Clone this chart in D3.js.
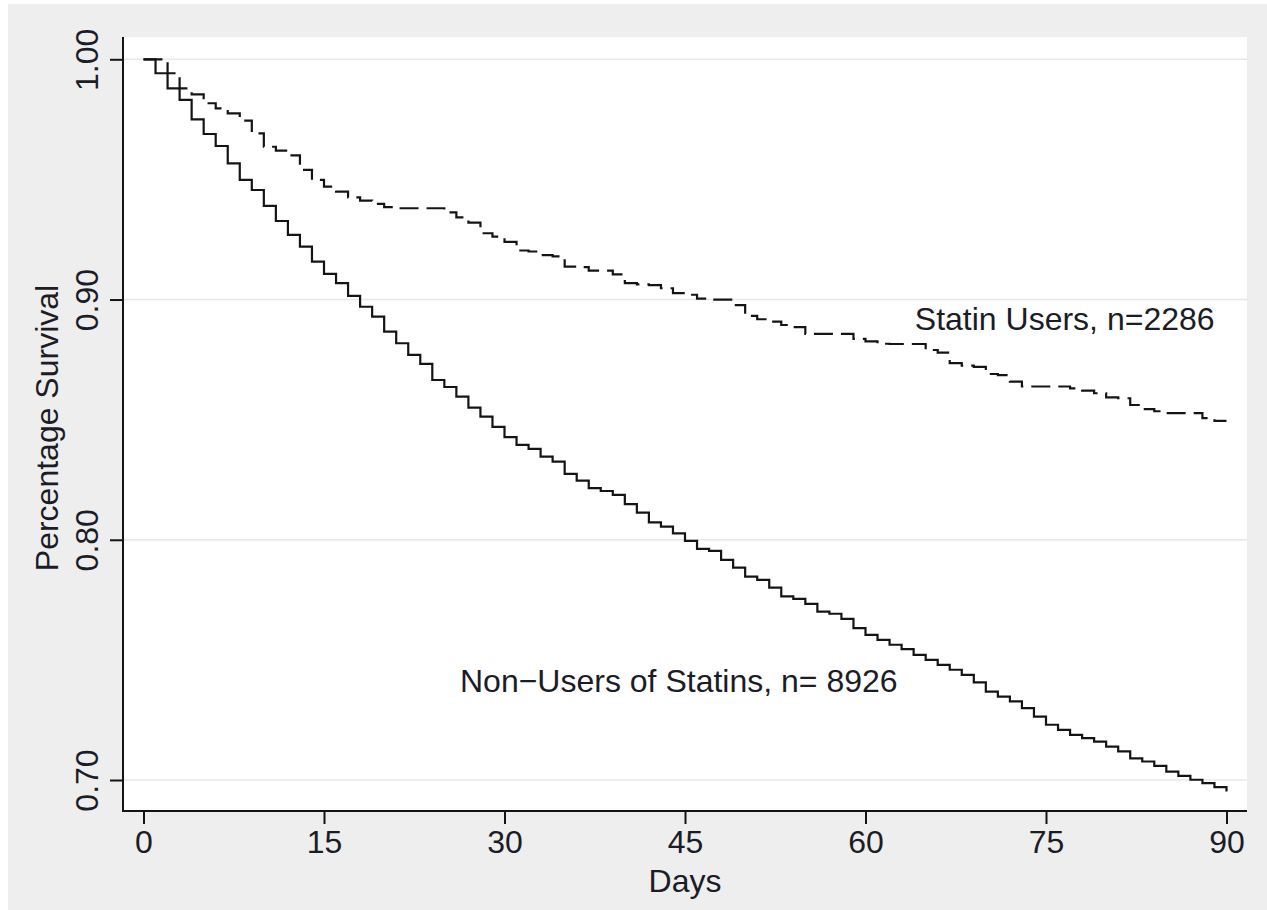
<!DOCTYPE html>
<html>
<head>
<meta charset="utf-8">
<script src="https://cdn.jsdelivr.net/npm/d3@7"></script>
<style>
  html, body { margin: 0; padding: 0; background: #ffffff; }
  svg { display: block; }
  text { font-family: "Liberation Sans", Arial, Helvetica, sans-serif; fill: #1c1c26; }
</style>
</head>
<body>
<svg id="chart" width="1267" height="910"></svg>
<script>
// Kaplan-Meier survival estimates, one value per day (value holds from that day to the next)
const days = d3.range(0, 91);

const nonUsers = [
  1.0000, 0.9942, 0.9879, 0.9831, 0.9750, 0.9689, 0.9639, 0.9567, 0.9498, 0.9456,
  0.9390, 0.9327, 0.9269, 0.9220, 0.9158, 0.9107, 0.9068, 0.9015, 0.8970, 0.8929,
  0.8866, 0.8818, 0.8770, 0.8732, 0.8665, 0.8636, 0.8596, 0.8550, 0.8513, 0.8470,
  0.8427, 0.8395, 0.8378, 0.8346, 0.8325, 0.8274, 0.8246, 0.8215, 0.8203, 0.8187,
  0.8148, 0.8113, 0.8072, 0.8055, 0.8027, 0.7995, 0.7962, 0.7954, 0.7916, 0.7884,
  0.7847, 0.7833, 0.7801, 0.7764, 0.7754, 0.7733, 0.7701, 0.7692, 0.7671, 0.7632,
  0.7604, 0.7583, 0.7563, 0.7545, 0.7521, 0.7500, 0.7479, 0.7459, 0.7438, 0.7406,
  0.7368, 0.7347, 0.7327, 0.7299, 0.7264, 0.7230, 0.7209, 0.7188, 0.7174, 0.7160,
  0.7139, 0.7119, 0.7090, 0.7077, 0.7059, 0.7035, 0.7017, 0.7001, 0.6987, 0.6970,
  0.6952
];

const statinUsers = [
  1.0000, 1.0000, 0.9942, 0.9879, 0.9854, 0.9817, 0.9796, 0.9775, 0.9745, 0.9692,
  0.9636, 0.9620, 0.9600, 0.9540, 0.9498, 0.9470, 0.9449, 0.9425, 0.9412, 0.9398,
  0.9385, 0.9380, 0.9380, 0.9380, 0.9380, 0.9363, 0.9342, 0.9320, 0.9276, 0.9262,
  0.9240, 0.9204, 0.9200, 0.9185, 0.9180, 0.9137, 0.9135, 0.9120, 0.9120, 0.9105,
  0.9068, 0.9063, 0.9060, 0.9047, 0.9027, 0.9020, 0.9004, 0.9000, 0.9000, 0.8977,
  0.8932, 0.8918, 0.8908, 0.8894, 0.8885, 0.8857, 0.8857, 0.8857, 0.8857, 0.8836,
  0.8826, 0.8816, 0.8815, 0.8815, 0.8815, 0.8790, 0.8779, 0.8735, 0.8725, 0.8720,
  0.8690, 0.8685, 0.8658, 0.8638, 0.8638, 0.8638, 0.8638, 0.8630, 0.8621, 0.8610,
  0.8593, 0.8589, 0.8561, 0.8544, 0.8535, 0.8527, 0.8527, 0.8527, 0.8506, 0.8495,
  0.8495
];

const xTicks = [0, 15, 30, 45, 60, 75, 90];
const yTicks = [0.70, 0.80, 0.90, 1.00];

const curveLabels = [
  { text: "Statin Users, n=2286", day: 64.1, value: 0.8873 },
  { text: "Non\u2212Users of Statins, n= 8926", day: 26.3, value: 0.7368 }
];

const W = 1267, H = 910;
const plot = { left: 123, right: 1247, top: 37, bottom: 811 };

const svg = d3.select("#chart");

// outer graph region
svg.append("rect").attr("x", 8).attr("y", 4).attr("width", W - 8).attr("height", H - 4)
  .attr("fill", "#eeeeee");
// plot region
svg.append("rect").attr("x", plot.left).attr("y", plot.top)
  .attr("width", plot.right - plot.left).attr("height", plot.bottom - plot.top)
  .attr("fill", "#ffffff");

const x = d3.scaleLinear().domain([-1.704, 91.704]).range([plot.left, plot.right]);
const y = d3.scaleLinear().domain([0.6871, 1.00928]).range([plot.bottom, plot.top]);

// horizontal grid
svg.append("g").selectAll("line").data(yTicks).join("line")
  .attr("x1", plot.left).attr("x2", plot.right)
  .attr("y1", d => y(d)).attr("y2", d => y(d))
  .attr("stroke", "#e8e8e8").attr("stroke-width", 1.6);

// survival step curves
const line = d3.line()
  .x((d, i) => x(days[i]))
  .y(d => y(d))
  .curve(d3.curveStepAfter);

svg.append("path").datum(nonUsers)
  .attr("d", line).attr("fill", "none")
  .attr("stroke", "#141414").attr("stroke-width", 2.2);

svg.append("path").datum(statinUsers)
  .attr("d", line).attr("fill", "none")
  .attr("stroke", "#141414").attr("stroke-width", 2.2)
  .attr("stroke-dasharray", "19,8");

// axes
const yAxis = d3.axisLeft(y).tickValues(yTicks).tickSize(13).tickFormat(d3.format(".2f"));
const gy = svg.append("g").attr("transform", `translate(${plot.left},0)`).call(yAxis);
gy.select(".domain").attr("d", `M0,${plot.top}V${plot.bottom}`)
  .attr("stroke", "#141414").attr("stroke-width", 2);
gy.selectAll(".tick line").attr("stroke", "#141414").attr("stroke-width", 2);
gy.selectAll(".tick text")
  .attr("x", null).attr("dy", null)
  .attr("transform", "translate(-25,0) rotate(-90)")
  .attr("text-anchor", "middle")
  .style("font-size", "32px")
  .attr("fill", "#1c1c26");

const xAxis = d3.axisBottom(x).tickValues(xTicks).tickSize(13).tickFormat(d3.format("d"));
const gx = svg.append("g").attr("transform", `translate(0,${plot.bottom})`).call(xAxis);
gx.select(".domain").attr("d", `M${plot.left - 1},0H${plot.right}`)
  .attr("stroke", "#141414").attr("stroke-width", 2);
gx.selectAll(".tick line").attr("stroke", "#141414").attr("stroke-width", 2);
gx.selectAll(".tick text")
  .attr("y", 42).attr("dy", null)
  .style("font-size", "32px")
  .attr("fill", "#1c1c26");

svg.selectAll(".tick text").style("font-family", '"Liberation Sans", Arial, Helvetica, sans-serif');

// axis titles
svg.append("text")
  .attr("transform", `translate(58,${(plot.top + plot.bottom) / 2 + 4}) rotate(-90)`)
  .attr("text-anchor", "middle")
  .style("font-size", "32px")
  .text("Percentage Survival");

svg.append("text")
  .attr("x", (plot.left + plot.right) / 2)
  .attr("y", 892)
  .attr("text-anchor", "middle")
  .style("font-size", "32px")
  .text("Days");

// curve labels
svg.append("g").selectAll("text").data(curveLabels).join("text")
  .attr("x", d => x(d.day))
  .attr("y", d => y(d.value))
  .style("font-size", "32px")
  .text(d => d.text);
</script>
</body>
</html>
